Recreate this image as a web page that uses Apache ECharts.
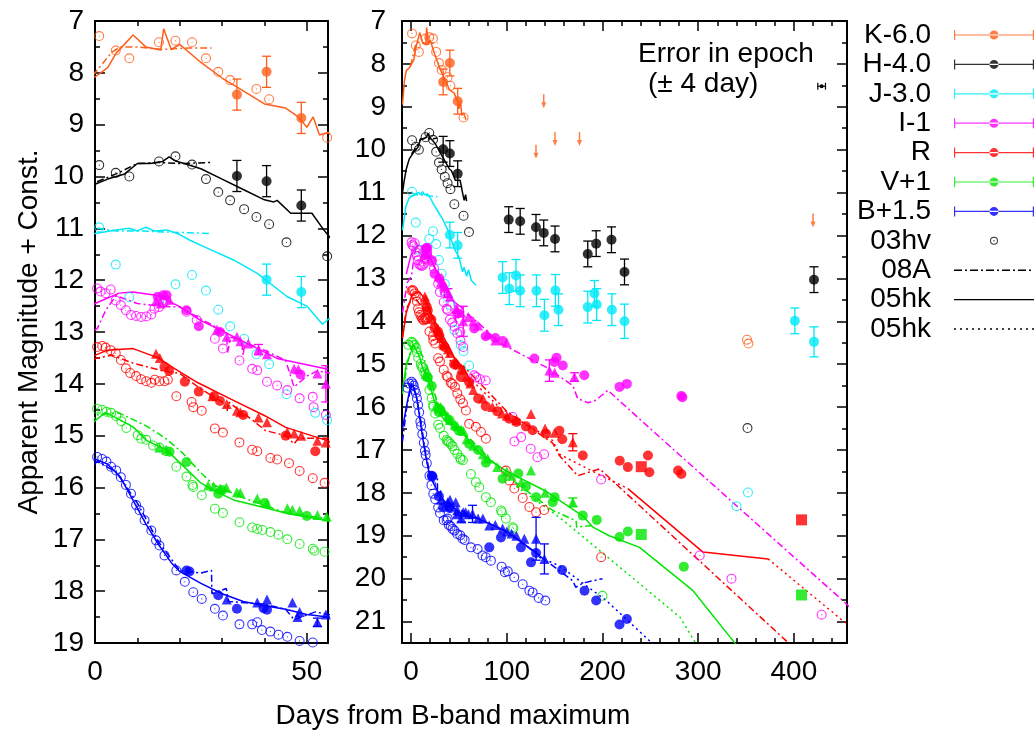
<!DOCTYPE html>
<html><head><meta charset="utf-8">
<script src="https://cdn.jsdelivr.net/npm/echarts@6/dist/echarts.min.js"></script>
<style>html,body{margin:0;padding:0;background:#fff}#c{width:1035px;height:732px}</style>
</head><body><div id="c"></div>
<script>
// ---------------- DATA (day from B max, apparent magnitude + const [, error]) ----------------
// K-6.0
const K_03hv = [[1,7.29],[4.9,7.57],[8.1,7.72],[15.1,7.41],[19,7.38],[22.9,7.41],[26.2,7.72],[29.1,7.98],[31.9,8.14],[38.1,8.31],[41.1,8.51],[54.8,9.25],[351,14.43],[352.5,14.52]];
const K_08A = [[-0.5,8.05],[2,7.8],[4,7.6],[6,7.5],[10,7.5],[16,7.55],[22,7.52],[27.5,7.52]];
const K_05hk = [[-9,8.95],[-7,8.4],[-5,8.15],[-2,8.1],[0,8.08],[3,7.9],[5,7.62],[9,7.27],[12,7.5],[15.5,7.56],[16.2,7.15],[18,7.55],[20,7.45],[25,7.8],[30,8.1],[35,8.35],[40,8.6],[45,8.68],[48,8.85],[50,9.05],[51.5,8.85],[53,9.2],[55,9.15],[57.4,9.3]];
const K_pts = [[33.5,8.42,0.3],[40.5,7.98,0.3],[48.7,8.87,0.3]];
const K_lim = [[130.5,10.05],[138.6,8.87],[150.4,9.75],[176,9.75],[420,11.65]];
// H-4.0
const H_03hv = [[1,9.78],[4.9,9.93],[8.1,10.0],[15.1,9.71],[19,9.61],[22.9,9.77],[26.2,10.05],[29.1,10.3],[31.9,10.46],[35.2,10.63],[38.1,10.78],[41.1,10.92],[45.2,11.27],[54.8,11.54],[60.5,11.92],[351.5,16.49]];
const H_08A = [[0.5,10.1],[5,9.95],[10,9.75],[15,9.73],[20,9.75],[27.5,9.73]];
const H_05hk = [[-9,11.0],[-7,10.7],[-5,10.45],[-2,10.22],[0,10.15],[3,10.05],[5,10.0],[7,9.95],[10,9.75],[13,9.75],[16,9.71],[17.5,9.62],[19,9.7],[21,9.75],[25,9.85],[30,10.05],[35,10.25],[40,10.45],[42.2,10.49],[43,10.46],[46.2,10.71],[51.2,10.71],[54,11.03],[55.5,11.18],[57,11.05],[58,11.2]];
const H_pts = [[33.5,9.99,0.3],[40.5,10.09,0.3],[48.7,10.56,0.3],[102,11.63,0.3],[114,11.67,0.3],[130.5,11.81,0.3],[138.6,11.94,0.3],[150.4,12.08,0.3],[184.6,12.43,0.3],[193.4,12.19,0.3],[209.4,12.1,0.3],[223,12.85,0.3],[421,13.03,0.3]];
// J-3.0
const J_03hv = [[1,10.98],[4.9,11.7],[8.1,12.33],[15.2,12.4],[19,12.08],[22.9,11.9],[26.2,12.2],[29.1,12.57],[31.9,12.89],[35.2,13.13],[38.1,13.43],[41.1,13.62],[45.2,14.2],[52,14.56],[54.8,14.7],[60.7,15.03],[340,18.31],[352,17.99]];
const J_08A = [[0.5,11.0],[5,11.05],[10,11.05],[20,11.08],[27.5,11.1]];
const J_05hk = [[-9,11.88],[-5.5,11.33],[-2,11.12],[0,11.1],[5,11.03],[8,11.0],[10,11.05],[12,10.98],[14,11.05],[17,11.03],[20,11.12],[22.4,11.23],[27,11.4],[32.7,11.61],[38.3,11.87],[45.4,12.32],[50,12.5],[53.7,12.85],[55.3,12.74],[58,12.95],[60,12.8],[63,13.05],[67.7,13.16]];
const J_pts = [[40.5,11.99,0.3],[48.7,12.23,0.3],[95.6,12.98,0.37],[102.6,13.24,0.37],[109.6,12.93,0.37],[114,13.29,0.37],[131,13.29,0.37],[139.3,13.86,0.37],[150.8,13.28,0.37],[154,13.73,0.37],[184.6,13.67,0.37],[191.6,13.35,0.3],[194,13.61,0.37],[209.8,13.73,0.37],[223,14.0,0.4],[401,13.99,0.3],[421,14.48,0.35]];
// I-1
const I_03hv = [[0.5,12.16],[1.3,12.22],[2.5,12.25],[3.7,12.18],[4.9,12.39],[6.1,12.48],[7.3,12.58],[8.5,12.67],[9.7,12.69],[10.9,12.71],[12.1,12.7],[13.3,12.66],[14,12.55],[15.1,12.52],[16.1,12.43],[16.8,12.4],[21.6,12.61],[24,12.77],[28.3,13.13],[30.2,13.32],[34.1,13.55],[37.1,13.71],[38.3,13.74],[40.6,13.96],[43,14.03],[45.4,14.12],[48.3,14.28],[51.4,14.25],[51.6,14.45],[54.5,14.6],[66,15.26],[68,15.3],[72,15.35],[78,15.38],[106,16.23],[108,16.8],[115,16.7],[125,16.97],[132,17.17],[139,17.1],[198.6,17.69],[301.6,19.46],[334.8,20.0],[429,20.84]];
const I_08A = [[-9,13.8],[-4,13.1],[0.5,12.94],[2.6,12.57],[5,12.3],[10,12.45],[15,12.5],[20,12.52],[25,12.75],[29,12.92],[31,13.0],[31.3,13.4],[32,13.1],[34.5,13.15],[35,13.45],[35.3,13.2],[40,13.35],[45,13.55],[47,14.06],[50,13.85],[52.5,13.75],[60,13.85],[71.2,14.05],[92,14.5],[141,15.07],[169,15.5],[174,15.8],[185,15.9],[193,15.84],[205.6,15.61],[259.7,16.7],[453,20.55],[460,20.7]];
const I_05hk = [[-5,12.9],[0,12.45],[5.7,12.25],[8.9,12.23],[14.4,12.29],[20,12.51],[24.8,12.77],[32.7,13.09],[35.9,13.22],[43,13.51],[55,13.72]];
const I_pts = [[14.8,12.32],[16.1,12.29],[16.9,12.29],[21.6,12.58],[24.5,12.89],[29.5,13.0],[48.5,13.82],[66,14.17],[78,14.35],[88,14.39],[95.6,14.46],[128.8,14.87],[149.7,14.95],[152,14.85],[158.5,15.03],[181,15.26],[217.8,15.53],[225.5,15.46],[282.4,15.74],[283.5,15.77]];
const I_tri = [[14.4,12.4],[15.5,12.45],[17.5,12.38],[28.8,12.95],[31.1,13.09],[33.5,13.09],[34.3,13.18],[36.2,13.22],[38.6,13.34,0.1],[40.6,13.43],[47,13.71],[48,13.72],[52.5,13.8],[54.5,14.0,0.35],[60,13.9],[65,14.0],[70,14.1],[80,14.3],[88,14.45],[100,14.5],[144.5,15.15,0.25],[150,15.2],[170.7,15.3,0.1]];
// R
const R_03hv = [[0.5,13.29],[1.7,13.27],[2.5,13.3],[3.7,13.35],[4.9,13.41],[6.1,13.54],[7.3,13.7],[8.3,13.79],[9.7,13.85],[10.9,13.91],[12.1,13.95],[13.3,13.98],[14.1,13.92],[15.2,13.95],[16.4,13.95],[17.2,13.92],[19.2,14.24],[22.8,14.35],[23.2,14.45],[25.2,14.52],[28.3,14.86],[30.2,14.94],[34.1,15.13],[37.1,15.27],[38.3,15.3],[41.4,15.43],[43,15.46],[45.8,15.53],[48.3,15.68],[51.4,15.82],[54.2,15.91],[57.3,16.08],[60.7,16.39],[67.7,16.46],[73,16.58],[78.2,16.74],[99,17.48],[102.6,17.71],[107.9,17.9],[116.6,18.12],[123.6,18.33],[130.6,18.45],[139,18.4],[198.6,19.5]];
const R_08A = [[-9,14.37],[-5,13.7],[0.5,13.5],[4,13.45],[9,13.6],[16,13.75],[20,13.8],[25,14.1],[30,14.35],[31.2,14.52],[31.5,14.35],[37.8,14.74],[40.2,14.9],[45,15.0],[47,15.16],[48,15.05],[55,15.05],[100,16.1],[148,16.84],[155,17.13],[174,17.6],[197,17.44],[392,21.45],[396,21.55]];
const R_05hk = [[-9,14.4],[-5,13.8],[0,13.45],[2.9,13.35],[9,13.32],[14.9,13.5],[18.7,13.7],[24.3,13.98],[32.2,14.3],[40.2,14.62],[45,14.84],[55,15.1],[60,15.3]];
const R_05hk_late = [[226.5,17.9],[305,19.38],[373,19.54]];
const R_05hk_dot = [[60,15.3],[92,16.0],[148,16.78],[155,17.1],[190,17.5],[226.5,17.9]];
const R_05hk_dot_late = [[373,19.54],[451,20.98],[456,21.05]];
const R_pts = [[16.4,13.67],[17.5,13.75],[21.2,13.96],[24.5,14.15],[28.1,14.24],[29.5,14.33],[35,14.6],[45,15.0],[52,15.3],[60.7,15.42],[70,15.8],[78,15.98],[90,16.1],[102.6,16.27],[110,16.35],[120,16.45],[127,16.54],[141,16.62],[155,16.55],[158,16.75],[179.4,17.13],[218,17.25],[226.5,17.4],[247.5,17.13],[249,17.52],[279,17.48],[282.4,17.56]];
const R_tri = [[14.4,13.42],[15.3,13.5],[27.7,14.24],[31.1,14.39],[33.5,14.52],[34.3,14.55],[38.6,14.65],[40.6,14.74],[45.4,14.93],[47,14.96],[48.7,15.0],[52.5,15.1],[54.5,15.13],[58,15.3],[62,15.45],[65,15.6],[75,15.8],[85,16.0],[95,16.15],[100,16.2],[110,16.3],[125.3,16.16],[140,16.5],[150,16.6],[169,16.82,0.2]];
const R_sq = [[240.5,17.39],[408,18.63]];
// V+1
const V_03hv = [[-3,14.55],[0.5,14.48],[1.7,14.5],[2.7,14.54],[3.8,14.56],[5,14.62],[6.2,14.72],[7.4,14.85],[10.1,14.99],[10.9,15.06],[12.1,15.08],[13.7,15.19],[15.2,15.23],[16.8,15.3],[19.2,15.6],[21.6,15.79],[23,15.95],[23.2,15.99],[25.2,16.15],[28.3,16.41],[30.2,16.49],[34.1,16.67],[37.1,16.77],[38.3,16.8],[39.5,16.82],[41.4,16.86],[43.3,16.91],[45.4,17.0],[48.3,17.09],[51.4,17.18],[51.8,17.22],[54.2,17.24],[62.5,17.56],[67.7,17.75],[71.2,17.87],[78.2,18.1],[83.4,18.22],[94,18.41],[95,18.45],[99,18.6],[106,18.8],[107,18.83],[200,20.4]];
const V_08A = [[-9,15.7],[-4,15.0],[0.5,14.6],[5.6,14.56],[12.1,14.81],[16.8,15.06],[20.5,15.32],[24.8,15.7],[28,15.95],[35,16.2],[45.4,16.5],[55,16.6],[100,17.6],[148,18.41],[172.4,18.65],[173,18.8],[190,18.76]];
const V_05hk = [[-9,15.6],[-5,15.0],[0.2,14.7],[2.5,14.55],[9,14.83],[12.1,15.09],[16.8,15.27],[20,15.52],[24.8,15.9],[27.9,16.05],[32.7,16.24],[40.6,16.4],[45.4,16.5],[55,16.64],[70,17.05],[100,17.5],[140,17.95],[180,18.55],[190,18.8],[207,19.0],[238.7,19.27],[294.6,20.28],[336.5,21.45],[340,21.55]];
const V_05hk_dot = [[110,17.85],[155,18.57],[200,19.4],[281,20.9],[300,21.6]];
const V_pts = [[17.6,15.31],[21.6,15.51],[29.1,16.12],[30,16.05],[40,16.3],[50,16.55],[60.7,16.86],[70,17.0],[78.2,17.3],[95.6,17.67],[112,17.55],[120,17.85],[130.6,18.1],[148,18.22],[150,18.1],[179.4,18.53],[194,18.63],[217.8,19.03],[226.5,18.9],[285,19.72]];
const V_tri = [[15.2,15.23],[16.8,15.27],[26.7,15.96],[28,15.98],[29.5,16.02],[31,16.0],[33.5,16.09],[34.3,16.1],[38.3,16.21],[40.6,16.3],[45.4,16.4],[46.6,16.43],[48.3,16.45],[52.5,16.53],[54.7,16.56],[58,16.75],[65,16.9],[75,17.1],[80,17.2],[90,17.4],[100,17.5],[105,17.6],[115,17.75],[125.3,17.48],[140,18.0],[169,18.22,0.1]];
const V_sq = [[240.5,18.97],[408,20.38]];
// B+1.5
const B_03hv = [[-4,15.55],[-2,15.45],[0.5,15.41],[1.7,15.45],[2.7,15.5],[3.8,15.6],[5,15.67],[6.1,15.8],[7.3,15.95],[8.5,16.12],[9.7,16.34],[10.5,16.44],[11.7,16.63],[13.3,16.83],[14.4,17.02],[15.2,17.12],[16.4,17.31],[19.2,17.6],[21.2,17.82],[23.2,18.02],[25.2,18.15],[28.3,18.34],[30.2,18.47],[34.1,18.64],[37.1,18.64],[38.3,18.6],[39.4,18.75],[41.4,18.78],[43.3,18.84],[45.4,18.88],[48.3,18.96],[51.4,18.99],[53.7,19.07],[56,19.1],[62.5,19.27],[69.5,19.31],[74.6,19.46],[78,19.5],[83.4,19.58],[94.6,19.72],[98,19.85],[101,19.83],[107.8,19.97],[116.6,20.13],[123.6,20.28],[127,20.32],[133.3,20.45],[140.3,20.51]];
const B_08A = [[-9,16.8],[-4,15.9],[0.5,15.5],[5,15.7],[10,16.3],[15,17.05],[20,17.6],[25,17.65],[27.5,17.6],[27.6,18.05],[31,17.95],[31.5,18.2],[40,18.25],[45,18.35],[47,18.55],[52,18.4],[55,18.45],[100,18.9],[169,20.05],[172,20.2],[180,20.1],[200,20.0]];
const B_05hk = [[-9,16.5],[-5,16.0],[0,15.45],[3,15.55],[6,15.8],[9,16.25],[12,16.7],[15,17.1],[18,17.45],[20,17.62],[25,17.85],[30,18.05],[35,18.2],[40,18.28],[45,18.35],[50,18.45],[55,18.5],[70,18.6],[100,18.9],[134,19.45]];
const B_05hk_dot = [[134,19.5],[155,19.7],[204,20.51],[252.6,21.52]];
const B_pts = [[21.6,17.6],[22.3,17.62],[29.1,18.08],[33.5,18.34],[39.8,18.33],[40.6,18.36],[81.7,19.27],[93.9,19.04],[114.8,19.27],[125.3,19.62],[130.6,19.4],[157.8,19.8],[181.2,20.28],[193.4,20.51],[217.8,21.07],[225.5,20.94]];
const B_tri = [[31.1,18.16],[38.3,18.22],[40.6,18.16],[46.6,18.22],[47.8,18.5],[48.3,18.4],[52.5,18.6,0.08],[54.5,18.45],[57,18.45],[60,18.5],[64.2,18.49,0.2],[70,18.6],[75,18.6],[81.7,18.76],[88,18.75],[95.6,18.83],[100,18.9],[105,18.95],[110,19.0],[118.3,19.07],[130.6,19.07,0.5],[139.3,19.54,0.35]];
// epoch error (± 4 day)
const EPOCH = [[429,8.52,4]];
// ticks
const LX_MAJ = [0,50], LX_MIN = [10,20,30,40];
const LY_MAJ = [7,8,9,10,11,12,13,14,15,16,17,18,19];
const LY_MIN = [7.5,8.5,9.5,10.5,11.5,12.5,13.5,14.5,15.5,16.5,17.5,18.5];
const RX_MAJ = [0,100,200,300,400];
const RX_MIN = [20,40,60,80,120,140,160,180,220,240,260,280,320,340,360,380,420,440];
const RY_MAJ = [7,8,9,10,11,12,13,14,15,16,17,18,19,20,21];
const RY_MIN = [7.5,8.5,9.5,10.5,11.5,12.5,13.5,14.5,15.5,16.5,17.5,18.5,19.5,20.5];

// ---------------- STYLE ----------------
const FONT = '"Liberation Sans", Arial, sans-serif';
const FS = 28;
const COL = {K:'#ff5e1a', H:'#000000', J:'#00e8f8', I:'#ff00ff', R:'#ff0000', V:'#00e600', B:'#0000ff'};
const RING = 'path://M0,10a10,10 0 1,0 20,0a10,10 0 1,0 -20,0zM2.2,10a7.8,7.8 0 1,1 15.6,0a7.8,7.8 0 1,1 -15.6,0zM8.8,10a1.2,1.2 0 1,0 2.4,0a1.2,1.2 0 1,0 -2.4,0z';
const ARROW = 'path://M1.4,0h1.2v9h-1.2zM0,8h4l-2,6z';
const DASHDOT = [7,3,2,3], DOTTED = [2,3.5];

const bands = [
  {k:'K', name:'K-6.0', h03:K_03hv, a08:K_08A, s05:[K_05hk], d05:[], pts:K_pts, tri:[], sq:[], lim:K_lim},
  {k:'H', name:'H-4.0', h03:H_03hv, a08:H_08A, s05:[H_05hk], d05:[], pts:H_pts, tri:[], sq:[], lim:[]},
  {k:'J', name:'J-3.0', h03:J_03hv, a08:J_08A, s05:[J_05hk], d05:[], pts:J_pts, tri:[], sq:[], lim:[]},
  {k:'I', name:'I-1', h03:I_03hv, a08:I_08A, s05:[I_05hk], d05:[], pts:I_pts, tri:I_tri, sq:[], lim:[]},
  {k:'R', name:'R', h03:R_03hv, a08:R_08A, s05:[R_05hk, R_05hk_late], d05:[R_05hk_dot, R_05hk_dot_late], pts:R_pts, tri:R_tri, sq:R_sq, lim:[]},
  {k:'V', name:'V+1', h03:V_03hv, a08:V_08A, s05:[V_05hk], d05:[V_05hk_dot], pts:V_pts, tri:V_tri, sq:V_sq, lim:[]},
  {k:'B', name:'B+1.5', h03:B_03hv, a08:B_08A, s05:[B_05hk], d05:[B_05hk_dot], pts:B_pts, tri:B_tri, sq:[], lim:[]}
];

function errItem(params, api) {
  const x = api.value(0), y = api.value(1), e = api.value(2);
  const a = api.coord([x, y - e]), b = api.coord([x, y + e]);
  const w = 4.5, st = {stroke: api.visual('color'), lineWidth: 1.3, fill: null};
  return {type:'group', children:[
    {type:'line', shape:{x1:a[0], y1:a[1], x2:b[0], y2:b[1]}, style:st},
    {type:'line', shape:{x1:a[0]-w, y1:a[1], x2:a[0]+w, y2:a[1]}, style:st},
    {type:'line', shape:{x1:b[0]-w, y1:b[1], x2:b[0]+w, y2:b[1]}, style:st}]};
}
function hErrItem(params, api) {
  const x = api.value(0), y = api.value(1), e = api.value(2);
  const a = api.coord([x - e, y]), b = api.coord([x + e, y]), c = api.coord([x, y]);
  const st = {stroke:'#000', lineWidth:1.2, fill:null};
  return {type:'group', children:[
    {type:'line', shape:{x1:a[0], y1:a[1], x2:b[0], y2:b[1]}, style:st},
    {type:'line', shape:{x1:a[0], y1:a[1]-3.5, x2:a[0], y2:a[1]+3.5}, style:st},
    {type:'line', shape:{x1:b[0], y1:b[1]-3.5, x2:b[0], y2:b[1]+3.5}, style:st},
    {type:'circle', shape:{cx:c[0], cy:c[1], r:2}, style:{fill:'#000'}}]};
}

const series = [];
[0,1].forEach(gi => {
  const base = {xAxisIndex: gi*4, yAxisIndex: gi*4, animation:false, silent:true};
  bands.forEach(b => {
    const c = COL[b.k];
    const nm = s => (b.k === 'H' ? s : s + '-' + b.k);
    series.push({...base, type:'line', name:nm('08A'), data:b.a08, symbol:'none', clip:true, color:c, lineStyle:{color:c, width:1.5, type:DASHDOT}, z:2});
    b.s05.forEach(d => series.push({...base, type:'line', name:nm('05hk'), data:d, symbol:'none', clip:true, color:c, lineStyle:{color:c, width:1.5}, z:2}));
    b.d05.forEach(d => series.push({...base, type:'line', name:nm('05hk.'), data:d, symbol:'none', clip:true, color:c, lineStyle:{color:c, width:1.5, type:DOTTED}, z:2}));
    series.push({...base, type:'scatter', name:nm('03hv'), data:b.h03, symbol:RING, symbolSize:10, clip:true, itemStyle:{color:c}, z:3});
    const withErr = b.pts.concat(b.tri).filter(p => p.length > 2);
    if (withErr.length) series.push({...base, type:'custom', name:b.name + '-err', data:withErr, renderItem:errItem, encode:{x:0, y:1}, clip:true, itemStyle:{color:c}, z:4});
    series.push({...base, type:'scatter', name:b.name, data:b.pts, symbol:'circle', symbolSize:10, clip:true, itemStyle:{color:c}, z:5});
    if (b.tri.length) series.push({...base, type:'scatter', name:b.name + '-tri', data:b.tri, symbol:'triangle', symbolSize:10, clip:true, itemStyle:{color:c}, z:5});
    if (b.sq.length) series.push({...base, type:'scatter', name:b.name + '-sq', data:b.sq, symbol:'rect', symbolSize:11, clip:true, itemStyle:{color:c}, z:5});
    if (b.lim.length) series.push({...base, type:'scatter', name:b.name + '-lim', data:b.lim, symbol:ARROW, symbolSize:[5,14], clip:true, itemStyle:{color:c}, z:5});
  });
});
series.push({type:'custom', name:'epoch', xAxisIndex:4, yAxisIndex:4, data:EPOCH, renderItem:hErrItem, encode:{x:0, y:1}, animation:false, silent:true, z:6});
series.push({type:'line', name:'05hk ', xAxisIndex:4, yAxisIndex:4, data:[], color:'#000', lineStyle:{color:'#000', type:DOTTED}, animation:false});

function mkAxis(kind, grid, pos, min, max, vals, len, labelOpt, showLine) {
  return {type:'value', gridIndex:grid, position:pos, min:min, max:max, inverse: kind === 'y',
    axisLine:{show:showLine, onZero:false, lineStyle:{color:'#000', width:2}},
    axisTick:{show:true, inside:true, length:len, customValues:vals, lineStyle:{color:'#000', width:1.5}},
    axisLabel: labelOpt ? Object.assign({show:true, customValues:vals, fontSize:FS, fontFamily:FONT, color:'#000'}, labelOpt) : {show:false},
    splitLine:{show:false}};
}
const LXMIN = 0, LXMAX = 55, RXMIN = -9.5, RXMAX = 455.5;
const xAxis = [
  mkAxis('x',0,'bottom',LXMIN,LXMAX,LX_MAJ,10,{margin:15},true),
  mkAxis('x',0,'bottom',LXMIN,LXMAX,LX_MIN,5,null,false),
  mkAxis('x',0,'top',LXMIN,LXMAX,LX_MAJ,10,null,true),
  mkAxis('x',0,'top',LXMIN,LXMAX,LX_MIN,5,null,false),
  mkAxis('x',1,'bottom',RXMIN,RXMAX,RX_MAJ,10,{margin:15},true),
  mkAxis('x',1,'bottom',RXMIN,RXMAX,RX_MIN,5,null,false),
  mkAxis('x',1,'top',RXMIN,RXMAX,RX_MAJ,10,null,true),
  mkAxis('x',1,'top',RXMIN,RXMAX,RX_MIN,5,null,false)
];
const yAxis = [
  mkAxis('y',0,'left',7,19,LY_MAJ,10,{margin:11},true),
  mkAxis('y',0,'left',7,19,LY_MIN,5,null,false),
  mkAxis('y',0,'right',7,19,LY_MAJ,10,null,true),
  mkAxis('y',0,'right',7,19,LY_MIN,5,null,false),
  mkAxis('y',1,'left',7,21.5,RY_MAJ,10,{margin:16},true),
  mkAxis('y',1,'left',7,21.5,RY_MIN,5,null,false),
  mkAxis('y',1,'right',7,21.5,RY_MAJ,10,null,true),
  mkAxis('y',1,'right',7,21.5,RY_MIN,5,null,false)
];
Object.assign(yAxis[0], {name:'Apparent Magnitude + Const.', nameLocation:'middle', nameRotate:90, nameGap:52,
  nameTextStyle:{fontSize:FS, fontFamily:FONT, color:'#000'}});

// legend icons (98 x 14 boxes; visible part from x=18)
const PAD = 'M0,0h0.05v0.05h-0.05zM0,13.95h0.05v0.05h-0.05zM97.95,0h0.05v0.05h-0.05z';
function segs(p) {
  let s = '', x = 18, i = 0;
  while (x < 98) { const L = p[i % p.length]; const w = Math.min(L, 98 - x); if (i % 2 === 0 && w > 0) s += 'M' + x + ',6.3h' + w + 'v1.4h-' + w + 'z'; x += L; i++; }
  return s;
}
const IC_BAND = 'path://' + PAD + 'M18,6.4h80v1.2h-80zM18,2h1.2v10h-1.2zM96.8,2h1.2v10h-1.2zM53.5,7a4.5,4.5 0 1,0 9,0a4.5,4.5 0 1,0 -9,0z';
const IC_RING = 'path://' + PAD + 'M54,7a4,4 0 1,0 8,0a4,4 0 1,0 -8,0zM55,7a3,3 0 1,1 6,0a3,3 0 1,1 -6,0zM57.3,7a0.7,0.7 0 1,0 1.4,0a0.7,0.7 0 1,0 -1.4,0z';
const IC_DD = 'path://' + PAD + segs([8,3,2,3]);
const IC_SOLID = 'path://' + PAD + 'M18,6.3h80v1.4h-80z';
const IC_DOT = 'path://' + PAD + segs([2,4]);
const legendData = bands.map(b => ({name:b.name, icon:IC_BAND, itemStyle:{color:COL[b.k], borderWidth:0}}))
  .concat([
    {name:'03hv', icon:IC_RING, itemStyle:{color:'#000', borderWidth:0}},
    {name:'08A', icon:IC_DD, itemStyle:{color:'#000', borderWidth:0}},
    {name:'05hk', icon:IC_SOLID, itemStyle:{color:'#000', borderWidth:0}},
    {name:'05hk ', icon:IC_DOT, itemStyle:{color:'#000', borderWidth:0}}
  ]);

const chart = echarts.init(document.getElementById('c'), null, {renderer:'canvas'});
chart.setOption({
  animation:false,
  backgroundColor:'#fff',
  textStyle:{fontFamily:FONT},
  grid:[{left:95, top:21, width:233, height:622}, {left:402, top:21, width:445, height:622}],
  xAxis, yAxis, series,
  legend:{orient:'vertical', right:1, top:21, align:'right', padding:0, itemGap:1.4, itemWidth:98, itemHeight:14,
    selectedMode:false, itemStyle:{borderWidth:0}, formatter: n => n.trim(),
    textStyle:{fontSize:28, fontFamily:FONT, color:'#000', lineHeight:28}, data:legendData},
  graphic:[
    {type:'text', left:638, top:40, style:{text:'Error in epoch', font:'28px ' + FONT, fill:'#000'}},
    {type:'text', left:648, top:70, style:{text:'(\u00b1 4 day)', font:'28px ' + FONT, fill:'#000'}},
    {type:'text', x:453, y:716, style:{text:'Days from B-band maximum', font:FS + 'px ' + FONT, fill:'#000', align:'center', verticalAlign:'middle'}}
  ]
});
</script></body></html>
